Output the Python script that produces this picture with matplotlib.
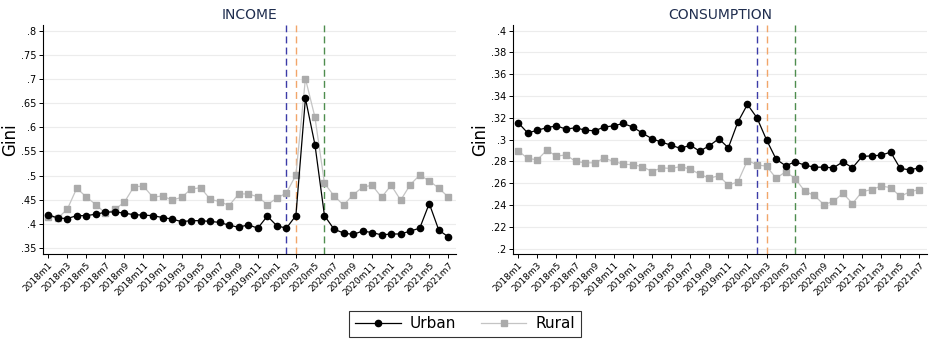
import matplotlib
matplotlib.use("Agg")
import matplotlib.pyplot as plt
import numpy as np

# monthly labels 2018m1 .. 2021m7
months = [f"{y}m{m}" for y in range(2018, 2022) for m in range(1, 13)][:43]

income_urban = [0.419, 0.412, 0.411, 0.417, 0.417, 0.420, 0.424, 0.425, 0.422, 0.419, 0.418, 0.417,
                0.413, 0.410, 0.4045, 0.4066, 0.4066, 0.405, 0.403, 0.397, 0.393, 0.398, 0.391, 0.416,
                0.396, 0.391, 0.417, 0.660, 0.564, 0.417, 0.389, 0.381, 0.378, 0.385, 0.382, 0.377,
                0.379, 0.379, 0.385, 0.391, 0.442, 0.387, 0.373]
income_rural = [0.415, 0.412, 0.430, 0.474, 0.4555, 0.440, 0.422, 0.430, 0.445, 0.477, 0.478, 0.455,
                0.458, 0.449, 0.455, 0.472, 0.475, 0.451, 0.446, 0.438, 0.462, 0.462, 0.456, 0.440,
                0.453, 0.464, 0.501, 0.701, 0.621, 0.484, 0.458, 0.439, 0.460, 0.476, 0.480, 0.455,
                0.480, 0.449, 0.481, 0.501, 0.489, 0.474, 0.4555]
cons_urban = [0.3155, 0.306, 0.3087, 0.3109, 0.3127, 0.3096, 0.3109, 0.3087, 0.3081, 0.3115, 0.3127, 0.3148,
              0.3115, 0.306, 0.3008, 0.2977, 0.2949, 0.2919, 0.2949, 0.2894, 0.2943, 0.3008, 0.2925, 0.3161,
              0.3323, 0.320, 0.2998, 0.2821, 0.276, 0.2796, 0.2766, 0.2747, 0.2747, 0.2741, 0.2796, 0.2741,
              0.2845, 0.2851, 0.2857, 0.2885, 0.2735, 0.2723, 0.2741]
cons_rural = [0.2897, 0.2827, 0.2815, 0.2903, 0.2848, 0.286, 0.280, 0.2787, 0.2787, 0.283, 0.280, 0.2775,
              0.2769, 0.2753, 0.2707, 0.2741, 0.2735, 0.2753, 0.2729, 0.2683, 0.2646, 0.2668, 0.2582, 0.2612,
              0.2808, 0.2769, 0.2756, 0.2646, 0.2704, 0.2643, 0.2527, 0.2487, 0.2404, 0.2432, 0.2508, 0.2413,
              0.2521, 0.2542, 0.2573, 0.2560, 0.2478, 0.2521, 0.2542]

# event months (dashed lines)
events = ["2020m2", "2020m3", "2020m6"]
event_colors = ["#3b3ba8", "#f2a66a", "#4e8d4e"]

income_ticks = np.round(np.arange(0.35, 0.801, 0.05), 2)
cons_ticks = np.round(np.arange(0.20, 0.401, 0.02), 2)

x = np.arange(len(months))


def fmt(v):
    s = f"{v:.2f}".rstrip("0").rstrip(".")
    return s[1:] if s.startswith("0") else s


fig = plt.figure(figsize=(9.32, 3.42), dpi=100)
ax1 = fig.add_axes([0.0461, 0.2573, 0.4431, 0.6696])
ax2 = fig.add_axes([0.5504, 0.2573, 0.4442, 0.6696])

panels = [(ax1, "INCOME", income_urban, income_rural, income_ticks, (0.3375, 0.812)),
          (ax2, "CONSUMPTION", cons_urban, cons_rural, cons_ticks, (0.195, 0.4052))]

for ax, title, urb, rur, ticks, ylim in panels:
    ax.set_yticks(ticks)
    ax.set_yticklabels([fmt(t) for t in ticks], fontsize=7)
    ax.set_ylim(*ylim)
    ax.grid(axis="y", color="#ececec", linewidth=0.8)
    ax.set_axisbelow(True)
    lr, = ax.plot(x, rur, color="#c4c4c4", linewidth=0.9, marker="s", markersize=4.5,
                  markerfacecolor="#ababab", markeredgecolor="#ababab", label="Rural", zorder=3)
    lu, = ax.plot(x, urb, color="black", linewidth=0.9, marker="o", markersize=4.5,
                  label="Urban", zorder=4)
    for ev, c in zip(events, event_colors):
        ax.axvline(months.index(ev), color=c, linewidth=1, linestyle=(0, (5, 3)), zorder=2)
    ax.set_xlim(-0.55, 42.8)
    ax.set_xticks(x[::2])
    ax.set_xticklabels(months[::2], rotation=45, ha="right", rotation_mode="anchor", fontsize=6.5)
    ax.set_ylabel("Gini", fontsize=12)
    ax.yaxis.set_label_coords(-0.057, 0.5)
    ax.set_title(title, fontsize=10, color="#1f2d4e", pad=4)
    for s in ["top", "right"]:
        ax.spines[s].set_visible(False)
    ax.spines["left"].set_linewidth(0.8)
    ax.spines["bottom"].set_linewidth(0.8)
    ax.tick_params(axis="both", length=3, width=0.7, pad=2)

leg = fig.legend([lu, lr], ["Urban", "Rural"], loc="center", bbox_to_anchor=(0.499, 0.053),
                 ncol=2, fontsize=11, frameon=True, fancybox=False, edgecolor="black",
                 handlelength=3.0, columnspacing=1.6, borderpad=0.35, handletextpad=0.6)
leg.get_frame().set_linewidth(0.8)

fig.savefig("out.png", dpi=100)
